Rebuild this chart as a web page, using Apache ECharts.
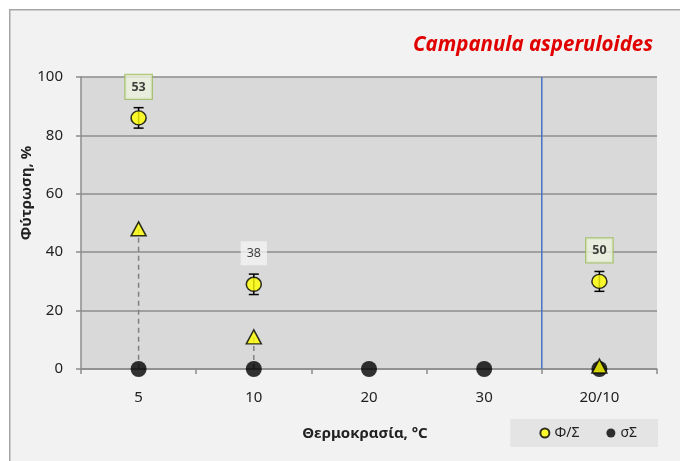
<!DOCTYPE html>
<html>
<head>
<meta charset="utf-8">
<script src="https://cdn.jsdelivr.net/npm/echarts@6/dist/echarts.min.js"></script>
<style>
  html, body { margin: 0; padding: 0; background: #fff; }
  #chart { width: 680px; height: 461px; }
</style>
</head>
<body>
<div id="chart"></div>
<script>
// temperatures on the x axis
const categories = ['5', '10', '20', '30', '20/10']
// Φ/Σ germination (%) with error
const phiValues = [86, 29, null, null, 30]
const phiErrors = [3.5, 3.5, null, null, 3.4]
// second germination measure (triangles)
const triValues = [48, 11, null, null, 1]
// σΣ
const sigmaValues = [0, 0, 0, 0, 0]
// numbers in the boxes above the circles
const boxLabels = [53, 38, null, null, 50]
const plainBoxIdx = [1]

const font = 'Noto Sans'
const gridColor = '#8c8c8c'

const chart = echarts.init(document.getElementById('chart'))

const errorData = phiValues.map((v, i) => v == null ? null : [i, v - phiErrors[i], v + phiErrors[i]]).filter(d => d)
const dropData = triValues.map((v, i) => v == null ? null : [i, v]).filter(d => d)
const boxData = boxLabels.map((b, i) => {
  if (b == null) return null
  const plain = plainBoxIdx.indexOf(i) >= 0
  return {
    value: [i, phiValues[i]],
    label: plain
      ? { backgroundColor: '#f2f2f2', borderWidth: 0, fontWeight: 'normal' }
      : { backgroundColor: '#ebf1de', borderColor: '#9bbb59', borderWidth: 1.2, fontWeight: 'bold' }
  }
}).filter(d => d)

const option = {
  backgroundColor: '#ffffff',
  animation: false,
  textStyle: { fontFamily: font },
  graphic: [{
    type: 'rect',
    left: 9, top: 9, z: -10,
    shape: { width: 700, height: 480 },
    style: { fill: '#f2f2f2', stroke: '#a6a6a6', lineWidth: 1.5 }
  }],
  title: {
    text: 'Campanula asperuloides',
    right: 22, top: 30,
    textStyle: { color: '#e00000', fontStyle: 'italic', fontWeight: 'bold', fontSize: 20.5, fontFamily: font }
  },
  grid: { left: 81, right: 23, top: 77, bottom: 92, show: true, backgroundColor: '#d9d9d9', borderWidth: 0 },
  legend: {
    data: ['Φ/Σ', 'σΣ'],
    right: 22, bottom: 14,
    backgroundColor: '#e4e4e4',
    padding: [7, 21, 7, 29],
    itemGap: 27,
    icon: 'circle',
    itemWidth: 9, itemHeight: 9,
    textStyle: { fontSize: 14, color: '#222', fontFamily: font }
  },
  xAxis: [{
    type: 'category',
    data: categories,
    name: 'Θερμοκρασία, °C',
    nameLocation: 'middle',
    nameGap: 57,
    nameMoveOverlap: false,
    nameTextStyle: { fontWeight: 'bold', fontSize: 15, color: '#222', fontFamily: font, padding: [0, 8, 0, 0] },
    axisLine: { lineStyle: { color: gridColor, width: 1.5 } },
    axisTick: { show: true, interval: 0, length: 5, lineStyle: { color: gridColor, width: 1.5 } },
    axisLabel: { margin: 21, fontSize: 15, color: '#222', fontFamily: font },
    splitLine: { show: false }
  }, {
    type: 'value', min: 0, max: 5, show: false
  }],
  yAxis: {
    type: 'value',
    min: 0, max: 100, interval: 20,
    name: 'Φύτρωση, %',
    nameLocation: 'middle',
    nameGap: 47,
    nameMoveOverlap: false,
    nameTextStyle: { fontWeight: 'bold', fontSize: 15, color: '#222', fontFamily: font, padding: [0, 0, 0, 60] },
    axisLine: { show: true, lineStyle: { color: gridColor, width: 1.5 } },
    axisTick: { show: true, length: 5, lineStyle: { color: gridColor, width: 1.5 } },
    axisLabel: { margin: 18, fontSize: 15, color: '#222', fontFamily: font },
    splitLine: { lineStyle: { color: gridColor, width: 1.5 } }
  },
  series: [
    {
      name: 'divider',
      type: 'line',
      xAxisIndex: 1,
      data: [[4, 0], [4, 100]],
      symbol: 'none',
      lineStyle: { color: '#4472c4', width: 1.5 },
      z: 1, silent: true
    },
    {
      name: 'drop',
      type: 'custom',
      data: dropData,
      z: 2,
      renderItem: (params, api) => {
        const top = api.coord([api.value(0), api.value(1)])
        const bottom = api.coord([api.value(0), 0])
        return {
          type: 'line',
          shape: { x1: top[0], y1: top[1], x2: bottom[0], y2: bottom[1] },
          style: { stroke: '#808080', lineWidth: 1.5, lineDash: [5, 4] }
        }
      }
    },
    {
      name: 'err',
      type: 'custom',
      data: errorData,
      z: 3,
      renderItem: (params, api) => {
        const lo = api.coord([api.value(0), api.value(1)])
        const hi = api.coord([api.value(0), api.value(2)])
        const w = 5
        return {
          type: 'group',
          children: [
            { type: 'line', shape: { x1: lo[0], y1: lo[1], x2: hi[0], y2: hi[1] }, style: { stroke: '#000', lineWidth: 1.5 } },
            { type: 'line', shape: { x1: lo[0] - w, y1: lo[1], x2: lo[0] + w, y2: lo[1] }, style: { stroke: '#000', lineWidth: 1.5 } },
            { type: 'line', shape: { x1: hi[0] - w, y1: hi[1], x2: hi[0] + w, y2: hi[1] }, style: { stroke: '#000', lineWidth: 1.5 } }
          ]
        }
      }
    },
    {
      name: 'σΣ',
      type: 'scatter',
      data: sigmaValues,
      symbol: 'circle',
      symbolSize: 16,
      itemStyle: { color: '#000' },
      z: 4
    },
    {
      name: 'tri',
      type: 'scatter',
      data: triValues,
      symbol: 'triangle',
      symbolSize: [15, 14],
      itemStyle: { color: '#ffff00', borderColor: '#000', borderWidth: 1.5 },
      z: 5
    },
    {
      name: 'Φ/Σ',
      type: 'scatter',
      data: phiValues,
      symbol: 'circle',
      symbolSize: [15, 14],
      itemStyle: { color: '#ffff00', borderColor: '#000', borderWidth: 1.5 },
      z: 6
    },
    {
      name: 'box',
      type: 'scatter',
      data: boxData,
      symbolSize: 0,
      z: 7,
      silent: true,
      label: {
        show: true,
        position: 'top',
        distance: 19,
        formatter: p => String(boxLabels[p.value[0]]),
        fontSize: 12.5,
        color: '#111',
        fontFamily: font,
        padding: [6, 6, 5, 6]
      }
    }
  ]
}

chart.setOption(option)
</script>
</body>
</html>
